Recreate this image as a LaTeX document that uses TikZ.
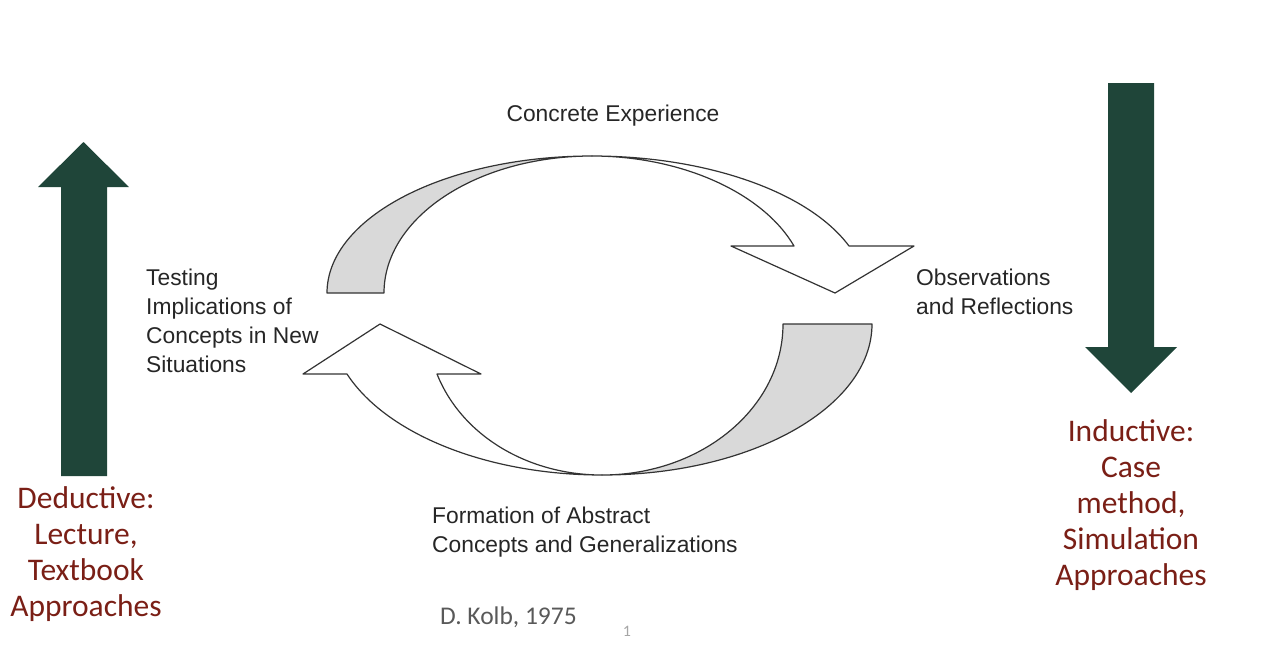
\documentclass[tikz,border=0pt]{standalone}
\usepackage{fontspec}
\usepackage{tikz,xcolor}
\newfontfamily\labelfont{Liberation Sans}
\newfontfamily\sidefont{Carlito}
\definecolor{arrowgreen}{HTML}{1F4539}
\definecolor{sidered}{HTML}{7A1F16}
\definecolor{bandgray}{HTML}{D9D9D9}
\definecolor{citegray}{HTML}{595959}

\begin{document}
\begin{tikzpicture}[x=1pt,y=-1pt,
    lbl/.style={inner sep=0pt, font=\labelfont\fontsize{22.8}{29}\selectfont, text=black!85, align=left},
    side/.style={inner sep=0pt, font=\sidefont\fontsize{31.5}{36}\selectfont, text=sidered, align=center},
    band/.style={draw=black!80, line width=1.2pt, line join=round}]
    \useasboundingbox (0,0) rectangle (1276,662);

    % Seta verde: dedutiva (sobe)
    \fill[arrowgreen] (61,476) -- (61,187) -- (38,187) -- (83.5,142) -- (129,187) -- (107,187) -- (107,476) -- cycle;
    % Seta verde: indutiva (desce)
    \fill[arrowgreen] (1108,83) -- (1154,83) -- (1154,347) -- (1177,347) -- (1131,393) -- (1085,347) -- (1108,347) -- cycle;

    % Arco de cima: face cinza
    \draw[band, fill=bandgray] (327,293) .. controls (327,217.3) and (445.6,156) .. (592,156)
        .. controls (477,156) and (384,217.3) .. (384,293) -- cycle;
    % Arco de cima: face branca com ponta
    \draw[band, fill=white] (592,156) .. controls (682,156) and (763,193) .. (794,246)
        -- (731,246) -- (835,293) -- (914,246) -- (849,246)
        .. controls (808.5,191.6) and (706,156) .. (592,156) -- cycle;

    % Arco de baixo: face cinza
    \draw[band, fill=bandgray] (783,324) -- (872,324) .. controls (872,407.4) and (751,475) .. (602,475)
        .. controls (702,475) and (783,407.4) .. (783,324) -- cycle;
    % Arco de baixo: face branca com ponta
    \draw[band, fill=white] (602,475) .. controls (528,475) and (461.7,435.8) .. (437,374)
        -- (481,374) -- (380,324) -- (303,374) -- (347,374)
        .. controls (386.6,434.7) and (488.3,475) .. (602,475) -- cycle;

    % Etapas do ciclo
    \node[lbl, anchor=base] (concrete) at (613,121) {Concrete Experience};
    \node[lbl, anchor=north west] (observ) at (916,269) {Observations\\and Reflections};
    \node[lbl, anchor=north west] (formation) at (432,507) {Formation of Abstract\\Concepts and Generalizations};
    \node[lbl, anchor=north west] (testing) at (146,269) {Testing\\Implications of\\Concepts in New\\Situations};

    % Rotulos laterais
    \node[side, anchor=north] (deduct) at (86,486) {Deductive:\\Lecture,\\Textbook\\Approaches};
    \node[side, anchor=north] (induct) at (1131,419) {Inductive:\\Case\\method,\\Simulation\\Approaches};

    % Fonte e numero da pagina
    \node[inner sep=0pt, anchor=base west, font=\sidefont\fontsize{25.5}{30}\selectfont, text=citegray] (kolb) at (440,624) {D. Kolb, 1975};
    \node[inner sep=0pt, anchor=base, font=\sidefont\fontsize{16}{18}\selectfont, text=black!35] (pagenum) at (627,636) {1};
\end{tikzpicture}
\end{document}
